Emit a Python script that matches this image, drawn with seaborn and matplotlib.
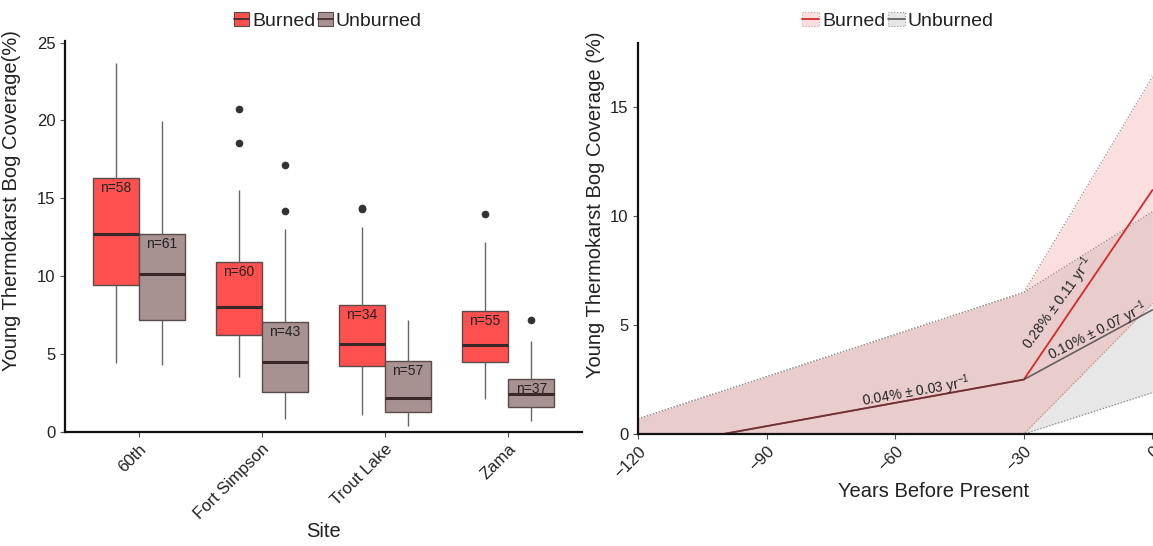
import numpy as np
import pandas as pd
import matplotlib
matplotlib.use("Agg")
import matplotlib.pyplot as plt
import seaborn as sns
from matplotlib.patches import Patch
from matplotlib.lines import Line2D

# ---------------- data ----------------
sites = ["60th", "Fort Simpson", "Trout Lake", "Zama"]
groups = ["Burned", "Unburned"]

burned_lo = [4.45, 3.55, 1.07, 2.14]
burned_q1 = [9.46, 6.20, 4.21, 4.47]
burned_med = [12.69, 8.04, 5.63, 5.56]
burned_q3 = [16.32, 10.93, 8.13, 7.75]
burned_hi = [23.67, 15.53, 13.18, 12.17]
burned_out = [[], [18.57, 20.73], [14.29, 14.41], [13.97]]
burned_n = [58, 60, 34, 55]

unburned_lo = [4.30, 0.86, 0.41, 0.69]
unburned_q1 = [7.19, 2.55, 1.26, 1.63]
unburned_med = [10.14, 4.49, 2.16, 2.46]
unburned_q3 = [12.69, 7.06, 4.54, 3.38]
unburned_hi = [19.98, 13.03, 7.19, 5.86]
unburned_out = [[], [14.20, 17.12], [], [7.17]]
unburned_n = [61, 43, 57, 37]

years = [-120, -30, 0]
burned_fit = [-0.71, 2.50, 11.20]
unburned_fit = [-0.71, 2.50, 5.70]
burned_upper = [0.70, 6.50, 16.40]
burned_lower = [0.00, 0.00, 6.00]
unburned_upper = [0.70, 6.50, 10.20]
unburned_lower = [0.00, 0.00, 1.90]

x_ticks_right = [-120, -90, -60, -30, 0]
y_ticks_left = [0, 5, 10, 15, 20, 25]
y_ticks_right = [0, 5, 10, 15]

rate_labels = [r"0.04% ± 0.03 yr$^{-1}$", r"0.28% ± 0.11 yr$^{-1}$", r"0.10% ± 0.07 yr$^{-1}$"]

# ---------------- style ----------------
sns.set_style("ticks")
plt.rcParams["font.family"] = ["Liberation Sans", "DejaVu Sans"]
plt.rcParams["mathtext.fontset"] = "custom"
plt.rcParams["mathtext.rm"] = "Liberation Sans"
plt.rcParams["mathtext.it"] = "Liberation Sans:italic"
plt.rcParams["mathtext.bf"] = "Liberation Sans:bold"

TXT = "#222222"
RED = "#FF5050"
GREYBOX = "#A89191"
LABEL_FS = 14.5
TICK_FS = 12
LEG_FS = 14
ANN_FS = 10

# build rows reproducing the box statistics
rows = []
def add_group(site, grp, lo, q1, med, q3, hi, outs):
    vals = [lo] + [q1] * 10 + [med] * 10 + [q3] * 10 + [hi] + list(outs)
    for v in vals:
        rows.append({"Site": site, "Fire": grp, "Coverage": v})

for i, s in enumerate(sites):
    add_group(s, "Burned", burned_lo[i], burned_q1[i], burned_med[i], burned_q3[i], burned_hi[i], burned_out[i])
    add_group(s, "Unburned", unburned_lo[i], unburned_q1[i], unburned_med[i], unburned_q3[i], unburned_hi[i], unburned_out[i])
df_box = pd.DataFrame(rows)

W, H = 1153, 546
fig = plt.figure(figsize=(W / 100, H / 100), dpi=100)
ax1 = fig.add_axes([65 / W, (H - 432) / H, (582 - 65) / W, 391 / H])
# right panel is cropped by the figure edge in the reference
ax2 = fig.add_axes([638 / W, (H - 434) / H, (1230 - 638) / W, 391 / H])

# ---------------- left: boxplots ----------------
sns.boxplot(
    data=df_box, x="Site", y="Coverage", hue="Fire", order=sites, hue_order=groups,
    palette={"Burned": RED, "Unburned": GREYBOX}, saturation=1, width=0.75, gap=0,
    dodge=True, linecolor="#5a4c4c", linewidth=1.0, whis=1.5,
    medianprops={"color": "#3a2828", "linewidth": 2.2},
    whiskerprops={"color": "#666666", "linewidth": 1.0},
    capprops={"visible": False},
    flierprops={"marker": "o", "markerfacecolor": "#333333", "markeredgecolor": "#333333",
                "markersize": 4.5},
    legend=False, ax=ax1,
)
offs = {"Burned": -0.1875, "Unburned": 0.1875}
for i in range(len(sites)):
    ax1.text(i + offs["Burned"], burned_q3[i] - 0.65, f"n={burned_n[i]}", ha="center",
             va="center", fontsize=10, color=TXT)
    ax1.text(i + offs["Unburned"], unburned_q3[i] - 0.65, f"n={unburned_n[i]}", ha="center",
             va="center", fontsize=10, color=TXT)

ax1.set_xlim(-0.6, 3.6)
ax1.set_ylim(0, 25.1)
ax1.set_yticks(y_ticks_left)
ax1.set_xlabel("Site", fontsize=LABEL_FS, color=TXT, labelpad=0)
ax1.set_ylabel("Young Thermokarst Bog Coverage(%)", fontsize=LABEL_FS, color=TXT)
ax1.yaxis.set_label_coords(-44 / 517, 0.592)
ax1.tick_params(axis="x", rotation=45, labelsize=TICK_FS)
for lab in ax1.get_xticklabels():
    lab.set_ha("right")
    lab.set_rotation_mode("anchor")
ax1.tick_params(axis="y", labelsize=TICK_FS)

lh1 = [
    (Patch(facecolor=RED, edgecolor="#5a4c4c", linewidth=0.8),
     Line2D([], [], color="#3a2828", linewidth=1.2)),
    (Patch(facecolor=GREYBOX, edgecolor="#5a4c4c", linewidth=0.8),
     Line2D([], [], color="#3a2828", linewidth=1.2)),
]
fig.legend(lh1, groups, loc="center", bbox_to_anchor=(328 / W, 1 - 21 / H), ncol=2,
           frameon=False, fontsize=LEG_FS, handlelength=0.75, handleheight=0.75,
           handletextpad=0.15, columnspacing=0.15, labelcolor=TXT)

# ---------------- right: segmented regression ----------------
ax2.fill_between(years, unburned_lower, unburned_upper, color="#A0A0A0", alpha=0.25, linewidth=0)
ax2.fill_between(years, burned_lower, burned_upper, color="#F08080", alpha=0.25, linewidth=0)
for arr, col in [(unburned_upper, "#888888"), (unburned_lower, "#888888"),
                 (burned_upper, "#999090"), (burned_lower, "#d08a8a")]:
    ax2.plot(years, arr, linestyle=(0, (1, 1.5)), color=col, linewidth=0.9)

df_fit = pd.DataFrame({
    "Year": years * 2,
    "Coverage": burned_fit + unburned_fit,
    "Fire": ["Burned"] * len(years) + ["Unburned"] * len(years),
})
sns.lineplot(data=df_fit[df_fit.Fire == "Burned"], x="Year", y="Coverage", color="#D8272E",
             linewidth=1.3, ax=ax2, legend=False)
sns.lineplot(data=df_fit[df_fit.Fire == "Unburned"], x="Year", y="Coverage", color="#3a3a3a",
             linewidth=1.2, alpha=0.75, ax=ax2, legend=False)

ax2.text(-55, 1.95, rate_labels[0], rotation=10, ha="center", va="center", fontsize=ANN_FS, color=TXT)
ax2.text(-21.8, 6.0, rate_labels[1], rotation=54, ha="center", va="center", fontsize=ANN_FS, color=TXT)
ax2.text(-12.8, 4.7, rate_labels[2], rotation=27, ha="center", va="center", fontsize=ANN_FS, color=TXT)

ax2.set_xlim(-120, (1230 - 638) / 4.287 - 120)
ax2.set_ylim(0, 17.95)
ax2.set_xticks(x_ticks_right)
ax2.set_yticks(y_ticks_right)
ax2.set_xlabel("Years Before Present", fontsize=LABEL_FS, color=TXT, labelpad=1)
ax2.set_ylabel("Young Thermokarst Bog Coverage (%)", fontsize=LABEL_FS, color=TXT)
ax2.yaxis.set_label_coords(-33 / 592, 0.586)
ax2.tick_params(axis="x", rotation=45, labelsize=TICK_FS)
for lab in ax2.get_xticklabels():
    lab.set_ha("right")
    lab.set_rotation_mode("anchor")
ax2.tick_params(axis="y", labelsize=TICK_FS)

lh2 = [
    (Patch(facecolor="#FBDEDE", edgecolor="#d09a9a", linestyle=":", linewidth=0.8),
     Line2D([], [], color="#D8272E", linewidth=1.3)),
    (Patch(facecolor="#E6E6E6", edgecolor="#999999", linestyle=":", linewidth=0.8),
     Line2D([], [], color="#555555", linewidth=1.2)),
]
fig.legend(lh2, groups, loc="center", bbox_to_anchor=(898 / W, 1 - 21 / H), ncol=2,
           frameon=False, fontsize=LEG_FS, handlelength=0.85, handleheight=0.75,
           handletextpad=0.15, columnspacing=0.15, labelcolor=TXT)

for ax in (ax1, ax2):
    sns.despine(ax=ax)
    for sp in ("left", "bottom"):
        ax.spines[sp].set_linewidth(1.6)
        ax.spines[sp].set_color("#111111")
    ax.tick_params(length=3.5, width=0.8, color="#555555", labelcolor=TXT)

fig.savefig("out.png", dpi=100)
